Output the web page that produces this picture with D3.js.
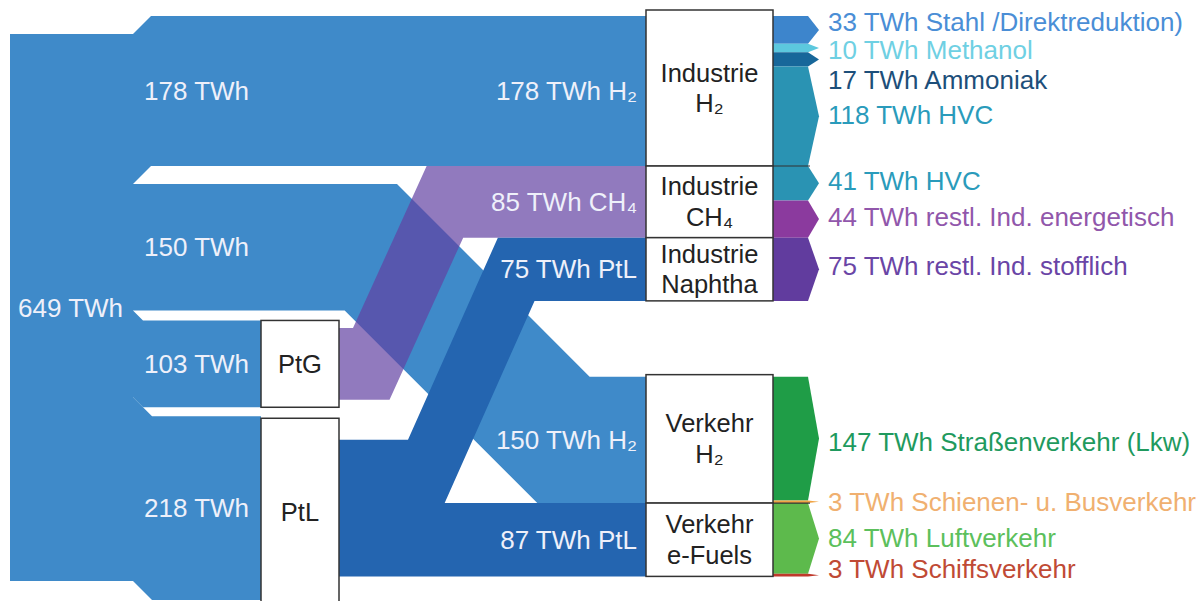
<!DOCTYPE html>
<html>
<head>
<meta charset="utf-8">
<script src="https://cdn.jsdelivr.net/npm/d3@7"></script>
<style>
html, body { margin: 0; padding: 0; background: #fff; }
svg { display: block; font-family: "Liberation Sans", Arial, Helvetica, sans-serif; }
</style>
</head>
<body>
<div id="chart"></div>
<script>
// Knoten
var nodeIds    = ["Strom", "PtG", "PtL", "IndH2", "IndCH4", "IndNaphtha", "VerH2", "VerFuels"];
var nodeStage  = ["Quelle", "Umwandlung", "Umwandlung", "Anwendung", "Anwendung", "Anwendung", "Anwendung", "Anwendung"];
var nodeLabels = [["649 TWh"], ["PtG"], ["PtL"], ["Industrie", "H₂"], ["Industrie", "CH₄"], ["Industrie", "Naphtha"], ["Verkehr", "H₂"], ["Verkehr", "e-Fuels"]];

// Flüsse (TWh)
var linkSource  = ["Strom", "Strom", "Strom", "Strom", "PtG", "PtL", "PtL"];
var linkTarget  = ["IndH2", "VerH2", "PtG", "PtL", "IndCH4", "IndNaphtha", "VerFuels"];
var linkValue   = [178, 150, 103, 218, 85, 75, 87];
var linkCarrier = ["H₂", "H₂", "", "", "CH₄", "PtL", "PtL"];

// Endanwendungen (TWh)
var useNode  = ["IndH2", "IndH2", "IndH2", "IndH2", "IndCH4", "IndCH4", "IndNaphtha", "VerH2", "VerH2", "VerFuels", "VerFuels"];
var useName  = ["Stahl /Direktreduktion)", "Methanol", "Ammoniak", "HVC", "HVC", "restl. Ind. energetisch",
                "restl. Ind. stofflich", "Straßenverkehr (Lkw)", "Schienen- u. Busverkehr", "Luftverkehr", "Schiffsverkehr"];
var useValue = [33, 10, 17, 118, 41, 44, 75, 147, 3, 84, 3];

// ---- Layout / Stil ----
var width = 1200, height = 601;
var fontSize = 26;
var srcTop = 34;
var splitShift = {IndH2: -18, VerH2: 0, PtG: 10, PtL: 19};      // Auffaecherung hinter dem Block
var bends = {                                                      // schraege Abschnitte
    VerH2:      {x: 397, slope: 1,    shear: -0.414},
    IndCH4:     {x: 353, slope: 2.2,  shear: 0.51},
    IndNaphtha: {x: 408, slope: 2.25, shear: 0.58}
};
var boxPad = {IndH2: [6, 0], VerH2: [2, 0], PtL: [-2, 6]};
var sepAfter = ["IndH2", "VerH2"];
var labelShift = [-8, 2, 21, -1, -2, -2, -3, 3, 0, 0, -6];
var arrowBody = 35, arrowTip = 11;

var total = d3.sum(linkValue.filter((v, i) => linkSource[i] == "Strom"));
var k = d3.scaleLinear().domain([0, total]).range([0, 547]);
var col = d3.scaleOrdinal()
    .domain(["Quelle", "Umwandlung", "Anwendung"])
    .range([10, 261, 646]);
var colW = d3.scaleOrdinal()
    .domain(["Quelle", "Umwandlung", "Anwendung"])
    .range([123, 78, 127]);

var linkColor = d3.scaleOrdinal()
    .domain(["Strom", "PtG", "PtL"])
    .range(["#3f8ac9", "rgba(99,66,162,0.7)", "#2465b0"]);
var useColor = d3.scaleOrdinal()
    .domain(["Stahl /Direktreduktion)", "Methanol", "Ammoniak", "HVC", "restl. Ind. energetisch", "restl. Ind. stofflich",
             "Straßenverkehr (Lkw)", "Schienen- u. Busverkehr", "Luftverkehr", "Schiffsverkehr"])
    .range(["#3d85cc", "#5cc8de", "#17679a", "#2a93b3", "#8b3a9e", "#613c9e", "#1f9d47", "#f0a444", "#5dba4c", "#c0392b"]);
var useText = d3.scaleOrdinal()
    .domain(useColor.domain())
    .range(["#4a8ed6", "#6fd0e3", "#1d4f7a", "#2a9bbb", "#9157ab", "#6a45a6", "#1f9a5e", "#f0b070", "#5cc05c", "#c04a35"]);

// ---- Geometrie aus den Daten ----
var nodes = {};
nodeIds.forEach((id, i) => nodes[id] = {id: id, stage: nodeStage[i], label: nodeLabels[i]});
var links = linkValue.map((v, i) => ({
    source: nodes[linkSource[i]], target: nodes[linkTarget[i]],
    value: v, carrier: linkCarrier[i], h: k(v), shift: 0
}));

var strom = nodes.Strom;
strom.y0 = srcTop; strom.y1 = srcTop + k(total);
var yy = strom.y0;
links.filter(l => l.source === strom).forEach(l => {
    l.sy = yy; yy += l.h;
    l.shift = splitShift[l.target.id];
});

["PtG", "PtL"].forEach(id => {
    var n = nodes[id];
    var inl = links.find(l => l.target === n);
    n.y0 = inl.sy + inl.shift; n.y1 = n.y0 + inl.h;
    var outs = links.filter(l => l.source === n);
    var y = (n.y0 + n.y1) / 2 - d3.sum(outs, l => l.h) / 2;
    outs.forEach(l => { l.sy = y; y += l.h; });
});

// Industrie-Spalte: beginnt am H2-Band, Verkehr-Spalte: e-Fuels-Band laeuft gerade
var lIndH2 = links.find(l => l.target.id == "IndH2");
var y = lIndH2.sy + lIndH2.shift;
["IndH2", "IndCH4", "IndNaphtha"].forEach(id => {
    var l = links.find(l => l.target.id == id);
    nodes[id].y0 = y; y += l.h; nodes[id].y1 = y;
});
var lFuels = links.find(l => l.target.id == "VerFuels");
y = lFuels.sy - links.find(l => l.target.id == "VerH2").h;
["VerH2", "VerFuels"].forEach(id => {
    var l = links.find(l => l.target.id == id);
    nodes[id].y0 = y; y += l.h; nodes[id].y1 = y;
});
links.forEach(l => l.ty = l.target.y0);

function linkPoints(l) {
    var x0 = col(l.source.stage) + colW(l.source.stage);
    var x1 = col(l.target.stage);
    var y = l.sy;
    var top = [[x0, y]];
    if (l.shift) { y += l.shift; top.push([x0 + Math.abs(l.shift), y]); }
    var b = bends[l.target.id], shear = 0;
    if (b) {
        top.push([b.x, y]);
        top.push([b.x + Math.abs(l.ty - y) / b.slope, l.ty]);
        shear = b.shear * l.h;
    }
    top.push([x1, l.ty]);
    var bottom = top.map(p => [p[0] + shear, p[1] + l.h]);
    bottom[0][0] = x0;
    bottom[bottom.length - 1][0] = x1;
    return top.concat(bottom.reverse());
}

var uses = useValue.map((v, i) => ({node: nodes[useNode[i]], name: useName[i], value: v, h: k(v), dy: labelShift[i]}));
d3.group(uses, d => d.node.id).forEach((arr, id) => {
    var y = nodes[id].y0;
    arr.forEach(u => { u.y0 = y; y += u.h; u.y1 = y; });
});

// ---- Zeichnen ----
const svg = d3.select("#chart")
    .append("svg")
    .attr("width", width)
    .attr("height", height)
    .attr("viewBox", [0, 0, width, height]);

var line = d3.line();

// Quellblock
svg.append("rect")
    .attr("x", col("Quelle"))
    .attr("y", strom.y0)
    .attr("width", colW("Quelle"))
    .attr("height", strom.y1 - strom.y0)
    .attr("fill", linkColor("Strom"));

// Baender: erst hellblau, dann violett, dann dunkelblau
var order = ["Strom", "PtG", "PtL"];
svg.append("g")
    .selectAll("path")
    .data(links.slice().sort((a, b) => order.indexOf(a.source.id) - order.indexOf(b.source.id)))
    .join("path")
    .attr("d", d => line(linkPoints(d)) + "Z")
    .attr("fill", d => linkColor(d.source.id));

// Pfeile der Endanwendungen
var ax = col("Anwendung") + colW("Anwendung");
svg.append("g")
    .selectAll("path")
    .data(uses)
    .join("path")
    .attr("d", d => line([[ax, d.y0], [ax + arrowBody, d.y0], [ax + arrowBody + arrowTip, (d.y0 + d.y1) / 2],
                          [ax + arrowBody, d.y1], [ax, d.y1]]) + "Z")
    .attr("fill", d => useColor(d.name));

svg.append("g")
    .selectAll("line")
    .data(sepAfter.map(id => nodes[id]))
    .join("line")
    .attr("x1", ax).attr("x2", ax + arrowBody + 2)
    .attr("y1", d => d.y1).attr("y2", d => d.y1)
    .attr("stroke", "#333").attr("stroke-width", 1.2);

// Kaesten
var boxes = nodeIds.filter(id => nodes[id].stage != "Quelle").map(id => nodes[id]);
var box = svg.append("g")
    .selectAll("g")
    .data(boxes)
    .join("g");
box.append("rect")
    .attr("x", d => col(d.stage))
    .attr("y", d => d.y0 - (boxPad[d.id] ? boxPad[d.id][0] : 0))
    .attr("width", d => colW(d.stage))
    .attr("height", d => d.y1 - d.y0 + (boxPad[d.id] ? boxPad[d.id][0] + boxPad[d.id][1] : 0))
    .attr("fill", "#fff")
    .attr("stroke", "#333")
    .attr("stroke-width", 1.5);
box.append("text")
    .attr("x", d => col(d.stage) + colW(d.stage) / 2)
    .attr("y", d => (d.y0 + d.y1) / 2 - (boxPad[d.id] ? (boxPad[d.id][0] - boxPad[d.id][1]) / 2 : 0))
    .attr("text-anchor", "middle")
    .attr("font-size", fontSize - 0.5)
    .attr("fill", "#222")
    .selectAll("tspan")
    .data(d => d.label.map((t, i) => ({t: t, i: i, n: d.label.length})))
    .join("tspan")
    .attr("x", function () { return this.parentNode.getAttribute("x"); })
    .attr("dy", d => d.i == 0 ? (0.35 - (d.n - 1) * 0.6) + "em" : "1.2em")
    .text(d => d.t);

// Beschriftungen
var txt = svg.append("g")
    .attr("font-size", fontSize)
    .attr("dominant-baseline", "central");

txt.append("text")
    .attr("x", col("Quelle") + 8)
    .attr("y", (strom.y0 + strom.y1) / 2)
    .attr("fill", "#eef0fa")
    .text(strom.label[0]);

txt.selectAll(".lsrc")
    .data(links.filter(l => l.source === strom))
    .join("text")
    .attr("class", "lsrc")
    .attr("x", col("Quelle") + colW("Quelle") + 11)
    .attr("y", d => d.sy + d.shift + d.h / 2)
    .attr("fill", "#eef0fa")
    .text(d => d.value + " TWh");

txt.selectAll(".ltgt")
    .data(links.filter(l => l.target.stage == "Anwendung"))
    .join("text")
    .attr("class", "ltgt")
    .attr("x", col("Anwendung") - 9)
    .attr("y", d => d.ty + d.h / 2)
    .attr("text-anchor", "end")
    .attr("fill", "#eef0fa")
    .text(d => d.value + " TWh " + d.carrier);

txt.selectAll(".luse")
    .data(uses)
    .join("text")
    .attr("class", "luse")
    .attr("x", ax + 55)
    .attr("y", d => (d.y0 + d.y1) / 2 + d.dy)
    .attr("fill", d => useText(d.name))
    .text(d => d.value + " TWh " + d.name);
</script>
</body>
</html>
